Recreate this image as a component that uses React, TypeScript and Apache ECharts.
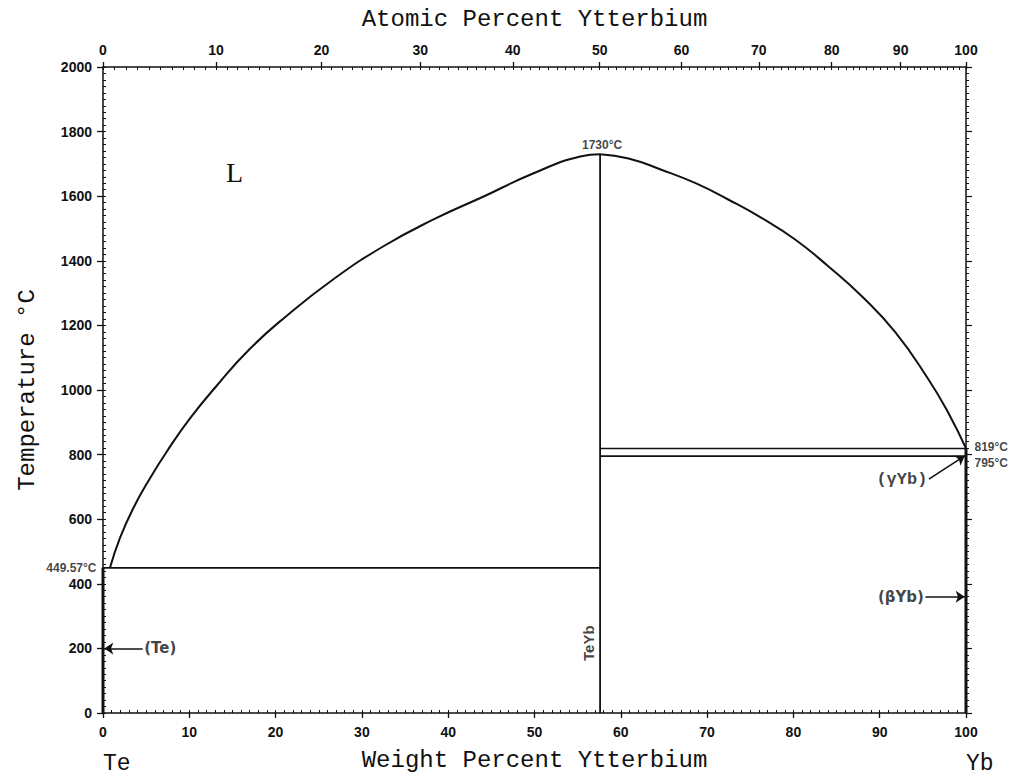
import React, { useEffect, useRef } from "react";
import * as echarts from "echarts";

// Atomic masses used to convert the top (atomic %) axis onto the weight % scale
const TE_MASS = 127.6;
const YB_MASS = 173.04;
const atToWt = (a: number) => (100 * a * YB_MASS) / (a * YB_MASS + (100 - a) * TE_MASS);
const wtToAt = (w: number) => (100 * (w / YB_MASS)) / (w / YB_MASS + (100 - w) / TE_MASS);

// Axis ticks
const atomicMajorTicks = [0, 10, 20, 30, 40, 50, 60, 70, 80, 90, 100];
const atomicMinorTicks = Array.from({ length: 101 }, (_, i) => i);

// Invariant points
const compoundWt = 57.6; // TeYb
const compoundMeltT = 1730;
const teEutecticT = 449.57;
const ybHighT = 819;
const ybLowT = 795;

// Liquidus Te side (wt% Yb, °C)
const leftLiquidusWt = [0.81, 1.97, 3.51, 5.45, 7.38, 10.08, 13.2, 17.0, 21.3, 26.7, 32.5, 38.3, 44.1, 49.9, 55.3, 57.6];
const leftLiquidusT = [449.57, 542, 634, 727, 809, 912, 1014, 1127, 1230, 1343, 1445, 1528, 1599, 1671, 1723, 1730];

// Liquidus Yb side
const rightLiquidusWt = [57.6, 60.9, 64.7, 68.6, 72.5, 76.3, 80.2, 84.0, 87.9, 91.8, 95.6, 97.9, 100];
const rightLiquidusT = [1730, 1717, 1682, 1641, 1589, 1533, 1466, 1384, 1291, 1179, 1035, 932, 819];

// Phase labels with arrows: [label, fromWt, fromT, toWt, toT]
const arrowLabels: [string, number, number, number, number][] = [
  ["(Te)", 4.6, 200, 0.15, 200],
  ["(βYb)", 95.3, 360, 99.85, 360],
  ["(γYb)", 95.7, 724, 99.85, 796],
];

const black = "#111";
const tickFont = { fontFamily: "Liberation Sans, Arial, sans-serif", fontWeight: "bold" as const, fontSize: 14, color: black };
const monoFont = { fontFamily: "Liberation Mono, DejaVu Sans Mono, monospace", fontSize: 24, color: black };
const annFont = { fontFamily: "Liberation Sans, Arial", fontWeight: "bold" as const, fontSize: 12, color: black };

const zip = (xs: number[], ys: number[]) => xs.map((x, i) => [x, ys[i]]);

const lineSeries = (name: string, data: number[][], width = 2, smooth: boolean | number = false) => ({
  name,
  type: "line",
  data,
  showSymbol: false,
  symbol: "none",
  smooth,
  lineStyle: { color: black, width },
  silent: true,
});

const option: any = {
  animation: false,
  backgroundColor: "#fff",
  grid: { left: 103, right: 60, top: 67, bottom: 61, containLabel: false },
  xAxis: [
    {
      type: "value", position: "bottom", min: 0, max: 100, interval: 10,
      name: "Weight Percent Ytterbium", nameLocation: "middle", nameGap: 35, nameTextStyle: monoFont,
      axisLine: { onZero: false, lineStyle: { color: black, width: 1.5 } },
      axisTick: { inside: false, length: 5, lineStyle: { color: black, width: 1.3 } },
      axisLabel: { ...tickFont, margin: 12 },
      splitLine: { show: false },
    },
    {
      type: "value", position: "bottom", min: 0, max: 100, interval: 1,
      axisLine: { show: false, onZero: false },
      axisTick: { inside: true, length: 3, lineStyle: { color: black, width: 1 } },
      axisLabel: { show: false },
      splitLine: { show: false },
    },
    {
      type: "value", position: "top", min: 0, max: 100,
      name: "Atomic Percent Ytterbium", nameLocation: "middle", nameGap: 36, nameTextStyle: monoFont,
      axisLine: { onZero: false, lineStyle: { color: black, width: 1.5 } },
      axisTick: { inside: false, length: 5, customValues: atomicMajorTicks.map(atToWt), lineStyle: { color: black, width: 1.3 } },
      axisLabel: {
        ...tickFont, margin: 10,
        customValues: atomicMajorTicks.map(atToWt),
        formatter: (v: number) => String(Math.round(wtToAt(v))),
      },
      splitLine: { show: false },
    },
    {
      type: "value", position: "top", min: 0, max: 100,
      axisLine: { show: false, onZero: false },
      axisTick: { inside: true, length: 3, customValues: atomicMinorTicks.map(atToWt), lineStyle: { color: black, width: 1 } },
      axisLabel: { show: false },
      splitLine: { show: false },
    },
  ],
  yAxis: [
    {
      type: "value", position: "left", min: 0, max: 2000, interval: 200,
      name: "Temperature °C", nameLocation: "middle", nameGap: 64, nameTextStyle: monoFont,
      axisLine: { onZero: false, lineStyle: { color: black, width: 1.5 } },
      axisTick: { inside: false, length: 6, lineStyle: { color: black, width: 1.3 } },
      axisLabel: { ...tickFont, margin: 11, formatter: (v: number) => String(v) },
      splitLine: { show: false },
    },
    {
      type: "value", position: "left", min: 0, max: 2000, interval: 20,
      axisLine: { show: false, onZero: false },
      axisTick: { inside: true, length: 3, lineStyle: { color: black, width: 1 } },
      axisLabel: { show: false },
      splitLine: { show: false },
    },
    {
      type: "value", position: "right", min: 0, max: 2000, interval: 20,
      axisLine: { onZero: false, lineStyle: { color: black, width: 1.5 } },
      axisTick: { inside: false, length: 3, lineStyle: { color: black, width: 1 } },
      axisLabel: { show: false },
      splitLine: { show: false },
    },
    {
      type: "value", position: "right", min: 0, max: 2000, interval: 200,
      axisLine: { show: false, onZero: false },
      axisTick: { inside: false, length: 6, lineStyle: { color: black, width: 1.2 } },
      axisLabel: { show: false },
      splitLine: { show: false },
    },
  ],
  series: [
    lineSeries("liquidus Te side", zip(leftLiquidusWt, leftLiquidusT), 2, 0.5),
    lineSeries("liquidus Yb side", zip(rightLiquidusWt, rightLiquidusT), 2, 0.5),
    lineSeries("eutectic", [[0, teEutecticT], [compoundWt, teEutecticT]], 1.8),
    lineSeries("TeYb", [[compoundWt, 0], [compoundWt, compoundMeltT]], 1.8),
    lineSeries("819", [[compoundWt, ybHighT], [100, ybHighT]], 1.6),
    lineSeries("795", [[compoundWt, ybLowT], [100, ybLowT]], 1.8),
    lineSeries("Te", [[0, 0], [0, teEutecticT]], 3),
    lineSeries("Yb", [[100, 0], [100, ybHighT]], 3),
    {
      type: "lines",
      coordinateSystem: "cartesian2d",
      silent: true,
      symbol: ["none", "arrow"],
      symbolSize: 9,
      lineStyle: { color: black, width: 1.6, opacity: 1 },
      data: arrowLabels.map(([, x0, y0, x1, y1]) => ({ coords: [[x0, y0], [x1, y1]] })),
    },
    {
      type: "scatter",
      symbolSize: 1,
      itemStyle: { color: "rgba(0,0,0,0)" },
      silent: true,
      data: [
        { value: [compoundWt, compoundMeltT], label: { show: true, formatter: `${compoundMeltT}°C`, position: "top", distance: 3, offset: [2, 0], ...annFont } },
        { value: [0, teEutecticT], label: { show: true, formatter: `${teEutecticT}°C`, position: "left", distance: 6, ...annFont } },
        { value: [100, ybHighT], label: { show: true, formatter: `${ybHighT}°C`, position: "right", distance: 8, offset: [0, -1], ...annFont } },
        { value: [100, ybLowT], label: { show: true, formatter: `${ybLowT}°C`, position: "right", distance: 8, offset: [0, 7], ...annFont } },
        { value: [compoundWt, 216], label: { show: true, formatter: "TeYb", position: "inside", rotate: 90, offset: [0, -12], ...annFont, fontSize: 15 } },
        ...arrowLabels.map(([text, x0, y0]) => ({
          value: [x0, y0],
          label: {
            show: true, formatter: text,
            position: text === "(Te)" ? "right" : "left",
            distance: 1,
            fontFamily: text === "(γYb)" ? "Liberation Mono, monospace" : "DejaVu Sans, sans-serif",
            fontWeight: "bold",
            fontSize: text === "(γYb)" ? 17 : 15,
            color: black,
          },
        })),
      ],
    },
  ],
  graphic: [
    { type: "text", left: 226, top: 158, style: { text: "L", font: "28px 'Liberation Serif', serif", fill: black } },
    { type: "text", left: 103, top: 752, style: { text: "Te", font: "23px 'Liberation Mono', monospace", fill: black } },
    { type: "text", left: 966, top: 752, style: { text: "Yb", font: "23px 'Liberation Mono', monospace", fill: black } },
  ],
};

export default function App() {
  const ref = useRef<HTMLDivElement>(null);
  useEffect(() => {
    document.body.style.margin = "0";
    const chart = echarts.init(ref.current!, undefined, { renderer: "svg" });
    chart.setOption(option);
    return () => chart.dispose();
  }, []);
  return <div ref={ref} style={{ width: 1026, height: 777 }} />;
}
